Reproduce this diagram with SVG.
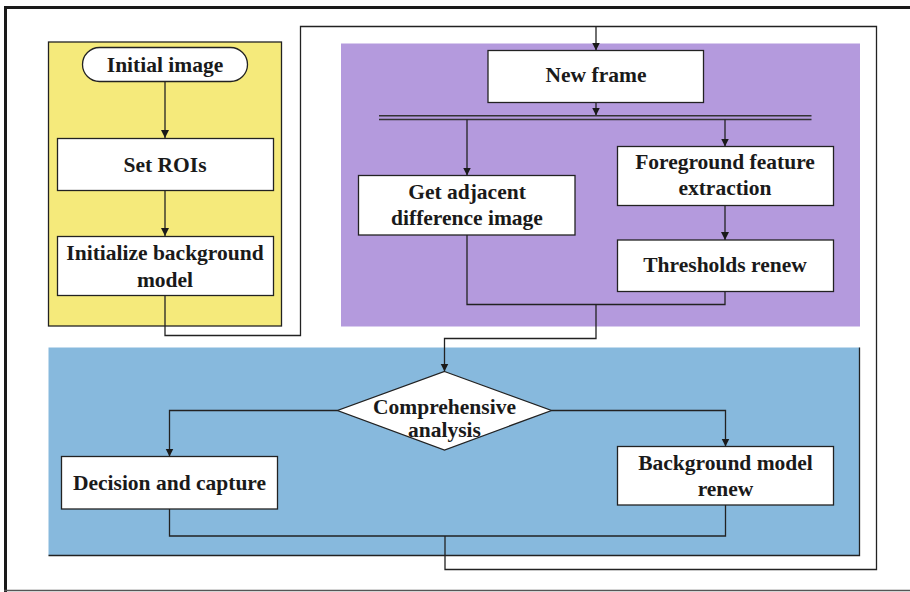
<svg xmlns="http://www.w3.org/2000/svg" width="910" height="592" viewBox="0 0 910 592">
<style>
.node{fill:#fff;stroke:#222;stroke-width:1.3}
.t{font-family:"Liberation Serif","Times New Roman",serif;font-weight:bold;font-size:21.5px;fill:#1a1a1a;text-anchor:middle}
.c{fill:none;stroke:#222;stroke-width:1.3}
.ca{fill:none;stroke:#222;stroke-width:1.3;marker-end:url(#ah)}
</style>
<defs>
<marker id="ah" viewBox="0 0 10 10" refX="10" refY="5" markerWidth="8" markerHeight="10" markerUnits="userSpaceOnUse" orient="auto">
<path d="M0,0 L10,5 L0,10 Z" fill="#1a1a1a"/>
</marker>
</defs>
<rect x="0" y="0" width="910" height="592" fill="#fff"/>
<g id="frame">
<line x1="4" y1="7.5" x2="910" y2="7.5" stroke="#1a1a1a" stroke-width="3"/>
<line x1="5.5" y1="6" x2="5.5" y2="592" stroke="#1a1a1a" stroke-width="3"/>
<line x1="4" y1="590.5" x2="910" y2="590.5" stroke="#555" stroke-width="1.5"/>
</g>
<g id="panels">
<rect x="48.5" y="42" width="233" height="284" fill="#f5ea7b" stroke="#222" stroke-width="1.3"/>
<rect x="341" y="43.5" width="519" height="283" fill="#b49add"/>
<rect x="48.5" y="347.5" width="811" height="208" fill="#87b9dd"/>
<polyline points="48.5,555.5 859.5,555.5 859.5,347.5" fill="none" stroke="#222" stroke-width="1.3"/>
</g>
<g id="connectors">
<line class="ca" x1="165" y1="82" x2="165" y2="138"/>
<line class="ca" x1="165" y1="190" x2="165" y2="236"/>
<polyline class="c" points="165,295 165,335.5 300.5,335.5 300.5,26.5 876.5,26.5 876.5,569.5 445,569.5 445,536"/>
<line class="ca" x1="596" y1="26.5" x2="596" y2="50.5"/>
<line class="ca" x1="596" y1="102" x2="596" y2="115.5"/>
<line x1="379" y1="115.8" x2="811.5" y2="115.8" stroke="#333" stroke-width="1.5"/>
<line x1="379" y1="119.5" x2="811.5" y2="119.5" stroke="#333" stroke-width="1.3"/>
<line class="ca" x1="467" y1="119.5" x2="467" y2="175.5"/>
<line class="ca" x1="725" y1="119.5" x2="725" y2="146.5"/>
<line class="ca" x1="725" y1="205.5" x2="725" y2="240"/>
<polyline class="c" points="467,235 467,304.5 725,304.5 725,291.5"/>
<polyline class="ca" points="596,304.5 596,338.5 444.5,338.5 444.5,371.5"/>
<polyline class="ca" points="337.5,410.5 169.5,410.5 169.5,456.5"/>
<polyline class="ca" points="551.5,410.5 725.5,410.5 725.5,446.5"/>
<polyline class="c" points="169.5,509 169.5,536 725.5,536 725.5,505"/>
</g>
<g id="initial-image">
<rect class="node" x="82.5" y="47.5" width="165" height="34" rx="17" ry="17"/>
<text class="t" x="165" y="71.5">Initial image</text>
</g>
<g id="set-rois">
<rect class="node" x="57.5" y="138.5" width="216" height="52"/>
<text class="t" x="165" y="171.5">Set ROIs</text>
</g>
<g id="init-bg">
<rect class="node" x="57.5" y="236.5" width="216" height="59"/>
<text class="t" x="165" y="259.5">Initialize background</text>
<text class="t" x="165" y="286.5">model</text>
</g>
<g id="new-frame">
<rect class="node" x="488" y="50.5" width="215.5" height="52"/>
<text class="t" x="596" y="82">New frame</text>
</g>
<g id="get-adjacent">
<rect class="node" x="358.5" y="175.5" width="216.5" height="59.5"/>
<text class="t" x="467" y="198.5">Get adjacent</text>
<text class="t" x="467" y="224.5">difference image</text>
</g>
<g id="foreground">
<rect class="node" x="617.5" y="146.5" width="216" height="59"/>
<text class="t" x="725" y="169">Foreground feature</text>
<text class="t" x="725" y="195">extraction</text>
</g>
<g id="thresholds">
<rect class="node" x="617.5" y="240" width="216" height="51.5"/>
<text class="t" x="725" y="272">Thresholds renew</text>
</g>
<g id="comprehensive">
<polygon class="node" points="444.5,371.5 551.5,410.5 444.5,450 337.5,410.5"/>
<text class="t" x="444.5" y="413.5">Comprehensive</text>
<text class="t" x="444.5" y="436.5">analysis</text>
</g>
<g id="decision">
<rect class="node" x="61.5" y="456.5" width="216" height="52.5"/>
<text class="t" x="169.5" y="490">Decision and capture</text>
</g>
<g id="bg-renew">
<rect class="node" x="617.5" y="446.5" width="216" height="58.5"/>
<text class="t" x="725.5" y="469.5">Background model</text>
<text class="t" x="725.5" y="495.5">renew</text>
</g>
</svg>
